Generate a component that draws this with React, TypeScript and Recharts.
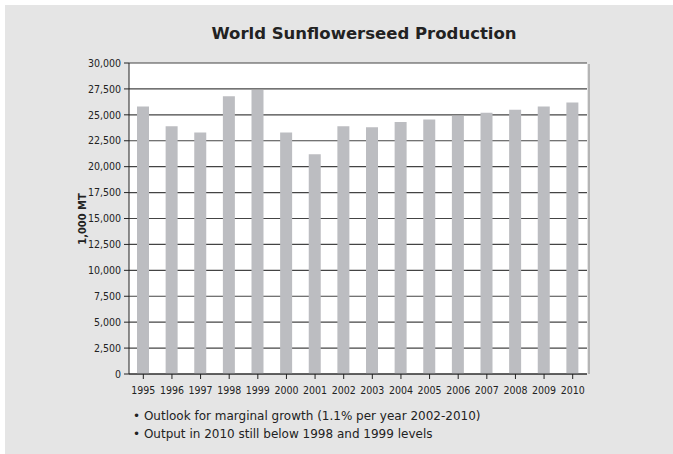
import React from 'react';
import { BarChart, Bar, XAxis, YAxis, CartesianGrid } from 'recharts';

const years = ['1995', '1996', '1997', '1998', '1999', '2000', '2001', '2002', '2003', '2004', '2005', '2006', '2007', '2008', '2009', '2010'];
const production = [25800, 23900, 23300, 26800, 27400, 23300, 21200, 23900, 23800, 24300, 24550, 24900, 25200, 25500, 25800, 26200];
const yTicks = [0, 2500, 5000, 7500, 10000, 12500, 15000, 17500, 20000, 22500, 25000, 27500, 30000];
const notes = [
  'Outlook for marginal growth (1.1% per year 2002-2010)',
  'Output in 2010 still below 1998 and 1999 levels',
];

const data = years.map((year, i) => ({ year, value: production[i] }));

const font = '"DejaVu Sans", Verdana, sans-serif';
const tickFont = '"DejaVu Sans Condensed", "DejaVu Sans", sans-serif';
const fmt = (v: number) => v.toLocaleString('en-US');

export default function App() {
  return (
    <div style={{ position: 'absolute', left: 0, top: 0, width: 673, height: 454, background: '#fff', fontFamily: font }}>
      <div style={{ position: 'absolute', left: 5, top: 5, width: 668, height: 449, background: '#e5e5e5' }} />
      <div
        style={{
          position: 'absolute', left: 0, top: 24, width: 728, textAlign: 'center',
          fontSize: 16.5, fontWeight: 'bold', color: '#222',
        }}
      >
        World Sunflowerseed Production
      </div>
      <div
        style={{
          position: 'absolute', left: 82, top: 219, transform: 'translate(-50%, -50%) rotate(-90deg)',
          fontSize: 11, fontWeight: 'bold', color: '#222', whiteSpace: 'nowrap', fontFamily: tickFont,
        }}
      >
        1,000 MT
      </div>
      {/* light shadow along the right edge of the plot */}
      <div style={{ position: 'absolute', left: 588, top: 64, width: 2, height: 310, background: '#b5b5b5' }} />
      <div style={{ position: 'absolute', left: 0, top: 0 }}>
        <BarChart
          width={673}
          height={410}
          data={data}
          margin={{ top: 63, right: 86, bottom: 6, left: 69 }}
          barSize={12}
        >
          <CartesianGrid vertical={false} stroke="#444" strokeWidth={1.2} fill="#fff" fillOpacity={1} />
          <XAxis
            dataKey="year"
            height={30}
            stroke="#222"
            tickSize={5}
            tickMargin={8}
            interval={0}
            tick={{ fontSize: 10.5, fill: '#222', fontFamily: tickFont }}
          />
          <XAxis xAxisId="top" orientation="top" dataKey="year" height={0} tick={false} tickLine={false} stroke="#222" />
          <YAxis
            domain={[0, 30000]}
            ticks={yTicks}
            width={60}
            stroke="#222"
            tickSize={5}
            tickMargin={3}
            interval={0}
            tickFormatter={fmt}
            tick={{ fontSize: 10.5, fill: '#222', fontFamily: tickFont }}
          />
          <YAxis yAxisId="right" orientation="right" domain={[0, 30000]} width={0} tick={false} tickLine={false} stroke="#222" />
          <Bar dataKey="value" fill="#bcbdc1" isAnimationActive={false} />
        </BarChart>
      </div>
      <div style={{ position: 'absolute', left: 133, top: 407, fontSize: 12, color: '#222', lineHeight: '18px' }}>
        {notes.map((n) => (
          <div key={n}>{'\u2022 ' + n}</div>
        ))}
      </div>
    </div>
  );
}
